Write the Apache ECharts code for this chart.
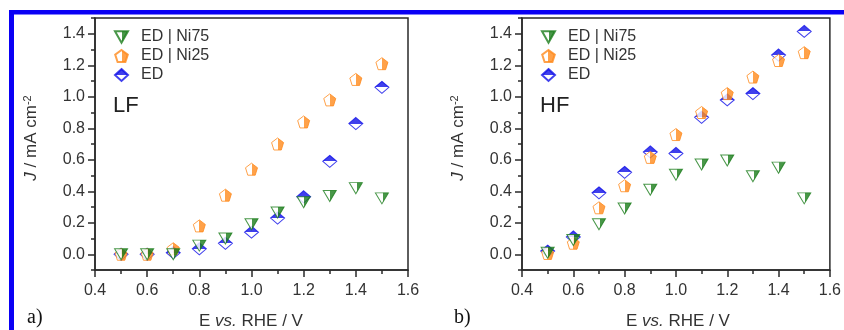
<!DOCTYPE html>
<html>
<head>
<meta charset="utf-8">
<script src="https://cdn.jsdelivr.net/npm/echarts@6/dist/echarts.min.js"></script>
<style>
html,body{margin:0;padding:0;background:#fff;}
#c{width:844px;height:330px;}
</style>
</head>
<body>
<div id="c"></div>
<script>
// ---- data ----
const potentials = [0.5, 0.6, 0.7, 0.8, 0.9, 1.0, 1.1, 1.2, 1.3, 1.4, 1.5];
// LF panel (a)
const lfNi75 = [0.0, 0.0, 0.0, 0.055, 0.10, 0.19, 0.265, 0.33, 0.37, 0.42, 0.355];
const lfNi25 = [0.0, 0.0, 0.035, 0.18, 0.375, 0.54, 0.70, 0.84, 0.98, 1.11, 1.21];
const lfED   = [0.0, 0.0, 0.01, 0.035, 0.07, 0.14, 0.23, 0.365, 0.59, 0.83, 1.06];
// HF panel (b)
const hfNi75 = [0.01, 0.09, 0.19, 0.29, 0.41, 0.505, 0.57, 0.595, 0.495, 0.55, 0.355];
const hfNi25 = [0.005, 0.07, 0.295, 0.435, 0.615, 0.76, 0.90, 1.02, 1.125, 1.23, 1.28];
const hfED   = [0.02, 0.11, 0.39, 0.52, 0.65, 0.64, 0.87, 0.98, 1.02, 1.265, 1.415];
const seriesNames = ['ED | Ni75', 'ED | Ni25', 'ED'];
const yTickLabels = [0, 0.2, 0.4, 0.6, 0.8, 1.0, 1.2, 1.4];
const panelNames = ['LF', 'HF'];
const panelLetters = ['a)', 'b)'];

const chart = echarts.init(document.getElementById('c'));
const FONT = '"Liberation Sans", Arial, sans-serif';
const AX = '#2a2a2a';
const TXT = '#333';

const GREEN = '#1b7d1b', ORANGE = '#ff8a1c', BLUE = '#1010e8';
function half(dirX0, dirY0, dirX1, dirY1, c) {
  return new echarts.graphic.LinearGradient(dirX0, dirY0, dirX1, dirY1, [
    {offset: 0, color: '#ffffff'}, {offset: 0.5, color: '#ffffff'},
    {offset: 0.5, color: c}, {offset: 1, color: c}
  ]);
}
const TRI = 'path://M0,0 L100,0 L50,86.6 Z';
const PENT = 'path://M50,0 L97.6,34.5 L79.4,90.5 L20.6,90.5 L2.4,34.5 Z';
const styleFor = {
  'ED | Ni75': {symbol: TRI, symbolSize: [13, 11], itemStyle: {color: half(0.1,0,1,0,GREEN), borderColor: GREEN, borderWidth: 1}},
  'ED | Ni25': {symbol: PENT, symbolSize: [12, 12], itemStyle: {color: half(0,0,1,0,ORANGE), borderColor: ORANGE, borderWidth: 1}},
  'ED':        {symbol: 'diamond', symbolSize: [14, 12], itemStyle: {color: half(0,1,0,0,BLUE), borderColor: BLUE, borderWidth: 1}}
};

const panels = [
  {left: 95, data: {'ED | Ni75': lfNi75, 'ED | Ni25': lfNi25, 'ED': lfED}},
  {left: 522, data: {'ED | Ni75': hfNi75, 'ED | Ni25': hfNi25, 'ED': hfED}}
];

const grid = [], xAxis = [], yAxis = [], series = [], legend = [], graphic = [];
panels.forEach((p, i) => {
  grid.push({left: p.left, top: 18, width: 313, height: 252, show: true,
    borderColor: AX, borderWidth: 1.5, backgroundColor: 'transparent'});
  xAxis.push({type: 'value', gridIndex: i, min: 0.4, max: 1.6, interval: 0.2, position: 'bottom',
    axisLine: {show: true, onZero: false, lineStyle: {color: AX, width: 1.5}},
    axisTick: {show: true, inside: false, length: 7, lineStyle: {color: AX, width: 1.5}},
    minorTick: {show: true, splitNumber: 2, length: 4, lineStyle: {color: AX, width: 1.5}},
    splitLine: {show: false}, minorSplitLine: {show: false},
    axisLabel: {fontFamily: FONT, fontSize: 16, color: TXT, margin: 13,
      formatter: v => v.toFixed(1)}});
  // minor-tick axis
  yAxis.push({type: 'value', gridIndex: i, min: -0.1, max: 1.5, interval: 0.1, position: 'left',
    axisLine: {show: true, onZero: false, lineStyle: {color: AX, width: 1.5}},
    axisTick: {show: true, inside: false, length: 4, lineStyle: {color: AX, width: 1.5}},
    axisLabel: {show: false}, splitLine: {show: false}});
  // major-tick + label axis
  yAxis.push({type: 'value', gridIndex: i, min: -0.1, max: 1.5, interval: 0.1, position: 'left', offset: 0,
    axisLine: {show: false, onZero: false},
    axisTick: {show: true, inside: false, length: 7, customValues: yTickLabels, lineStyle: {color: AX, width: 1.5}},
    axisLabel: {show: true, customValues: yTickLabels, fontFamily: FONT, fontSize: 16, color: TXT, margin: 10,
      formatter: v => v.toFixed(1)},
    splitLine: {show: false}});
  // draw order: ED, Ni25, Ni75 (Ni75 on top)
  ['ED', 'ED | Ni25', 'ED | Ni75'].forEach(name => {
    const st = styleFor[name];
    series.push({type: 'scatter', name: name, xAxisIndex: i, yAxisIndex: 2 * i,
      symbol: st.symbol, symbolSize: st.symbolSize, itemStyle: st.itemStyle,
      emphasis: {disabled: true}, animation: false,
      data: potentials.map((x, k) => [x, p.data[name][k]])});
  });
  legend.push({data: seriesNames, orient: 'vertical', left: p.left + 14, top: 24,
    itemWidth: 13, itemHeight: 12, itemGap: 3, selectedMode: false,
    textStyle: {fontFamily: FONT, fontSize: 16, color: TXT, padding: [0, 0, 0, 8]}});
  graphic.push({type: 'text', left: p.left + 18, top: 95,
    style: {text: panelNames[i], font: '22px ' + FONT, fill: '#222'}});
  graphic.push({type: 'text', x: p.left - 64, y: 138, rotation: Math.PI / 2,
    style: {text: '{i|J}{n| / mA cm}{s|-2}', align: 'center', verticalAlign: 'middle',
      rich: {i: {fontFamily: FONT, fontStyle: 'italic', fontSize: 17, fill: TXT, verticalAlign: 'bottom'},
             n: {fontFamily: FONT, fontSize: 17, fill: TXT, verticalAlign: 'bottom'},
             s: {fontFamily: FONT, fontSize: 11, fill: TXT, verticalAlign: 'top'}}}});
  graphic.push({type: 'text', x: p.left + 156, y: 321,
    style: {text: '{n|E }{i|vs.}{n| RHE / V}', align: 'center', verticalAlign: 'middle',
      rich: {i: {fontFamily: FONT, fontStyle: 'italic', fontSize: 17, fill: TXT},
             n: {fontFamily: FONT, fontSize: 17, fill: TXT}}}});
  graphic.push({type: 'text', x: p.left - 68, y: 318,
    style: {text: panelLetters[i], font: '20px "Liberation Serif", "Times New Roman", serif', fill: '#111',
      verticalAlign: 'middle'}});
});

// blue frame pieces
graphic.push({type: 'rect', shape: {x: 9, y: 10, width: 835, height: 4.5}, style: {fill: '#0a00f5'}});
graphic.push({type: 'rect', shape: {x: 9, y: 10, width: 5, height: 320}, style: {fill: '#0a00f5'}});

chart.setOption({
  animation: false,
  backgroundColor: '#ffffff',
  grid, xAxis, yAxis, series, legend, graphic
});
</script>
</body>
</html>
